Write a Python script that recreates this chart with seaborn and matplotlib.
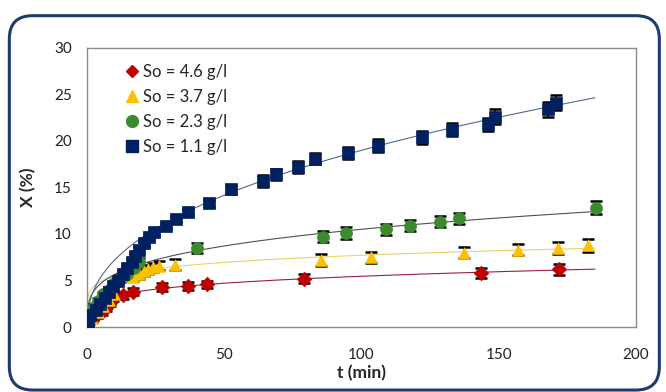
import numpy as np
import pandas as pd
import matplotlib
matplotlib.use("Agg")
import matplotlib.pyplot as plt
import seaborn as sns
from matplotlib.patches import FancyBboxPatch
from matplotlib.lines import Line2D

# ---- data ----
labels = ["So = 4.6 g/l", "So = 3.7 g/l", "So = 2.3 g/l", "So = 1.1 g/l"]

t_46 = [0.5, 1.8, 3.6, 5.5, 6.9, 8.4, 9.5, 13.1, 16.8, 27.4, 36.9, 43.8, 79.2, 143.4, 171.9]
x_46 = [0.3, 0.75, 1.3, 1.6, 2.0, 2.6, 3.1, 3.4, 3.8, 4.3, 4.4, 4.6, 5.2, 5.8, 6.2]
e_46 = [0.2, 0.2, 0.3, 0.3, 0.3, 0.3, 0.3, 0.4, 0.4, 0.4, 0.4, 0.4, 0.5, 0.5, 0.6]

t_37 = [0.5, 2.0, 4.0, 6.0, 8.0, 10.0, 16.9, 18.8, 20.6, 22.3, 24.0, 26.3, 32.0, 85.4, 103.6, 137.2, 156.9, 171.5, 182.5]
x_37 = [0.0, 1.0, 1.6, 2.3, 2.9, 3.5, 5.4, 5.7, 6.0, 6.2, 6.4, 6.6, 6.7, 7.2, 7.5, 8.0, 8.3, 8.5, 8.8]
e_37 = [0.2, 0.2, 0.3, 0.3, 0.3, 0.3, 0.5, 0.5, 0.5, 0.5, 0.5, 0.5, 0.6, 0.6, 0.6, 0.6, 0.6, 0.6, 0.7]

t_23 = [0.3, 1.0, 2.5, 4.0, 6.0, 8.0, 10.0, 12.0, 14.5, 17.0, 19.0, 40.1, 86.1, 94.5, 108.8, 117.5, 128.5, 135.4, 185.4]
x_23 = [0.3, 1.0, 2.2, 2.8, 3.5, 4.0, 4.7, 5.2, 5.7, 6.3, 7.0, 8.5, 9.7, 10.1, 10.5, 10.9, 11.3, 11.7, 12.8]
e_23 = [0.2, 0.2, 0.3, 0.3, 0.3, 0.3, 0.3, 0.4, 0.4, 0.4, 0.4, 0.5, 0.6, 0.6, 0.6, 0.6, 0.6, 0.6, 0.7]

t_11 = [0.5, 1.1, 3.3, 4.7, 6.6, 8.0, 9.5, 11.3, 13.1, 14.6, 16.4, 17.5, 19.0, 20.8, 22.6, 24.5,
        28.8, 32.5, 36.9, 44.5, 52.5, 64.0, 69.0, 77.0, 83.0, 95.0, 106.0, 122.0, 133.0, 146.0,
        148.5, 168.0, 171.0]
x_11 = [0.3, 1.3, 1.8, 2.5, 3.1, 3.8, 4.4, 5.0, 5.7, 6.3, 7.0, 7.6, 8.3, 9.0, 9.7, 10.2,
        10.9, 11.6, 12.4, 13.3, 14.8, 15.7, 16.4, 17.2, 18.1, 18.7, 19.5, 20.4, 21.2, 21.8,
        22.6, 23.4, 24.1]
e_11 = [0.2, 0.2, 0.3, 0.3, 0.3, 0.3, 0.3, 0.3, 0.3, 0.3, 0.3, 0.3, 0.3, 0.3, 0.3, 0.3,
        0.3, 0.3, 0.3, 0.4, 0.5, 0.6, 0.6, 0.6, 0.6, 0.6, 0.7, 0.7, 0.7, 0.7,
        0.8, 0.8, 0.8]

x_ticks = [0, 50, 100, 150, 200]
y_ticks = [0, 5, 10, 15, 20, 25, 30]

colors = ["#C00000", "#FFC000", "#3C8A2E", "#002060"]
line_colors = ["#9A2040", "#E8D36A", "#505050", "#56688C"]
markers = ["D", "^", "o", "s"]
msizes = [55, 70, 75, 80]

series = [(t_46, x_46, e_46), (t_37, x_37, e_37), (t_23, x_23, e_23), (t_11, x_11, e_11)]

frames = []
for lab, (t, x, e) in zip(labels, series):
    frames.append(pd.DataFrame({"t": t, "X": x, "err": e, "S": lab}))
df = pd.concat(frames, ignore_index=True)

sns.set_style("white")
plt.rcParams["font.family"] = ["Lato", "DejaVu Sans"]

fig = plt.figure(figsize=(6.66, 3.92), dpi=100)
ax = fig.add_axes([0.1306, 0.1658, 0.8244, 0.7118])

# outer rounded border
box = FancyBboxPatch((0.014, 0.005), 0.976, 0.955, boxstyle="round,pad=0,rounding_size=0.035",
                     transform=fig.transFigure, fill=False, edgecolor="#1F3A6E", linewidth=2.2,
                     mutation_aspect=666 / 392, clip_on=False)
fig.patches.append(box)

# trend lines (power fits of each series, fitted on the later part of the data)
for (t, x, e), lc in zip(series, line_colors):
    ta = np.array(t); xa = np.array(x)
    m = (ta >= 30) & (xa > 0)
    b, loga = np.polyfit(np.log(ta[m]), np.log(xa[m]), 1)
    tt = np.linspace(0.3, 185, 300)
    ax.plot(tt, np.exp(loga) * tt ** b, color=lc, lw=0.8, zorder=1)

# error bars
for (t, x, e) in series:
    ax.errorbar(t, x, yerr=e, fmt="none", ecolor="black", elinewidth=1.2, capsize=4.5, capthick=1.8, zorder=2)

# markers
for lab, c, mk, s in zip(labels, colors, markers, msizes):
    sub = df[df["S"] == lab]
    sns.scatterplot(data=sub, x="t", y="X", color=c, marker=mk, s=s, edgecolor=c,
                    linewidth=0.5, ax=ax, zorder=3, legend=False)

ax.set_xlim(0, 200)
ax.set_ylim(0, 30)
ax.set_xticks(x_ticks)
ax.set_yticks(y_ticks)
ax.tick_params(axis="both", which="both", direction="out", length=5, width=0.8, color="#888888",
               labelsize=11, labelcolor="#222222", pad=6)
ax.tick_params(axis="x", pad=10)
for sp in ax.spines.values():
    sp.set_color("#8C8C8C")
    sp.set_linewidth(1.0)
ax.set_xlabel("t (min)", fontsize=12.5, fontweight="bold", labelpad=2)
ax.set_ylabel("X (%)", fontsize=12.5, fontweight="bold", labelpad=13)

handles = [Line2D([], [], linestyle="none", marker=mk, color=c, markersize=ms)
           for c, mk, ms in zip(colors, markers, [6.5, 8.5, 8.5, 8.5])]
ax.legend(handles, labels, loc="upper left", bbox_to_anchor=(0.045, 0.985), frameon=False,
          fontsize=12, handletextpad=0.15, labelspacing=0.55, handlelength=1.0,
          borderaxespad=0.3)

fig.savefig("out.png", dpi=100)
